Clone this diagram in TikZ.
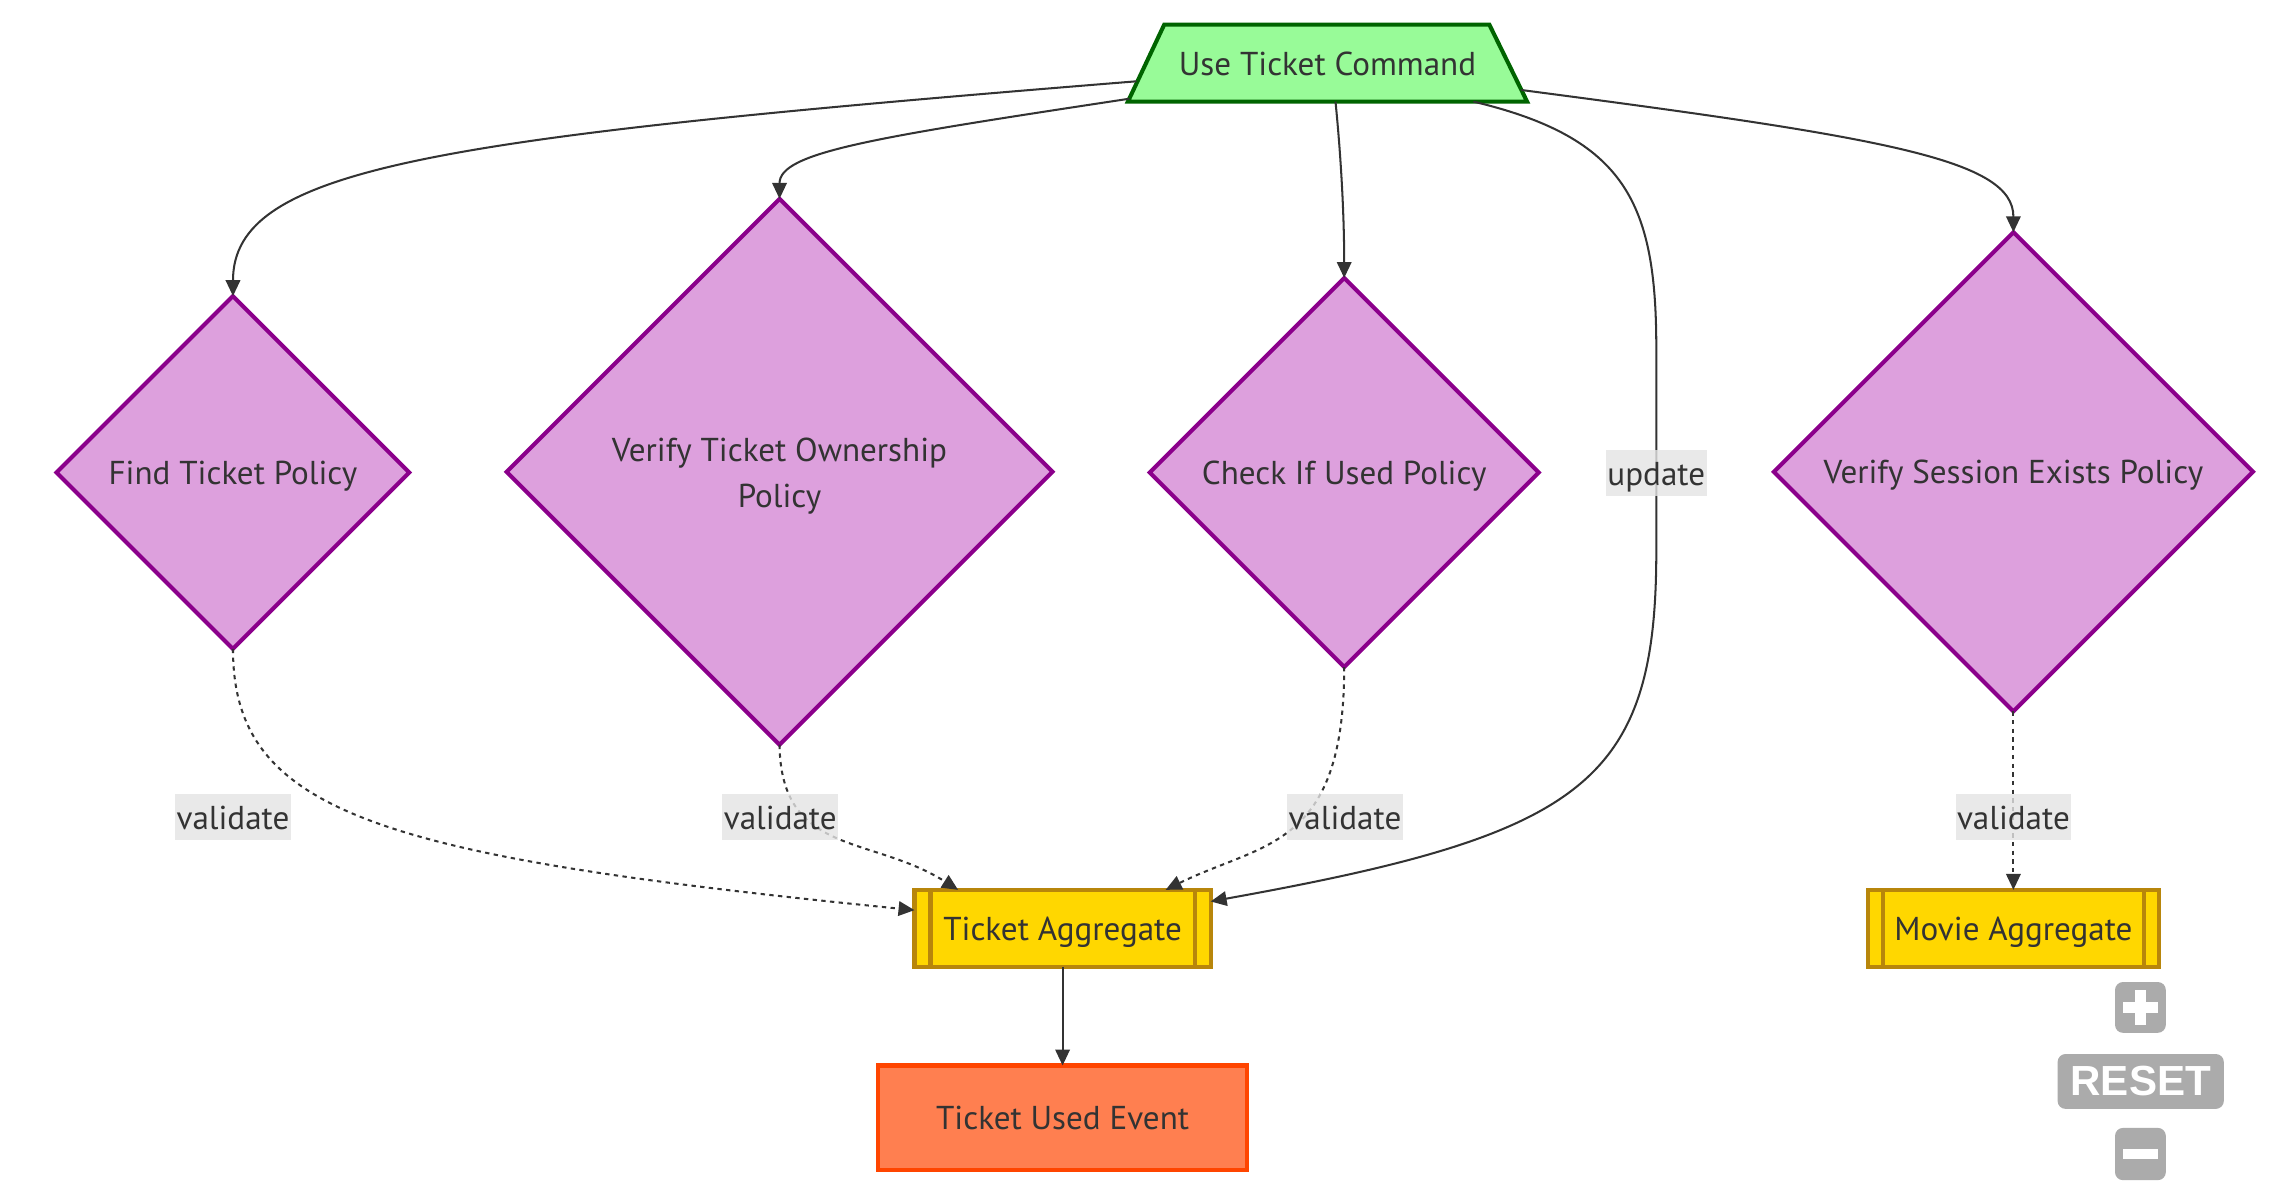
\documentclass[tikz,border=0pt]{standalone}
\usepackage{fontspec}
\setmainfont{PT Sans}
\newfontfamily\btnfont{Liberation Sans}
\usetikzlibrary{arrows.meta,shapes.geometric,calc}
\definecolor{txt}{HTML}{333333}
\definecolor{edgec}{HTML}{333333}
\definecolor{cmdfill}{HTML}{98FB98}
\definecolor{cmdstroke}{HTML}{006400}
\definecolor{polfill}{HTML}{DDA0DD}
\definecolor{polstroke}{HTML}{8B008B}
\definecolor{agfill}{HTML}{FFD700}
\definecolor{agstroke}{HTML}{B8860B}
\definecolor{evfill}{HTML}{FF7F50}
\definecolor{evstroke}{HTML}{FF4500}
\definecolor{labbg}{HTML}{E4E4E4}
\definecolor{btn}{HTML}{ABABAB}
\begin{document}
\begin{tikzpicture}[x=1pt,y=-1pt,
  lbl/.style={font=\fontsize{22.8}{32}\selectfont, text=txt, text height=21.3pt, text depth=4.7pt},
  pol/.style={diamond, draw=polstroke, fill=polfill, line width=2.8pt, aspect=1,
    inner sep=0pt, outer sep=0pt, align=center, lbl},
  agg/.style={rectangle, draw=agstroke, fill=agfill, line width=2.8pt,
    inner sep=0pt, outer sep=0pt, minimum height=53pt, lbl},
  conn/.style={draw=edgec, line width=1.4pt, -{Triangle[length=11pt,width=10pt]}},
  dotconn/.style={conn, dash pattern=on 3pt off 3pt},
  elab/.style={fill=labbg, fill opacity=0.8, text opacity=1, inner xsep=1pt, inner ysep=0pt,
    minimum height=32pt, lbl},
  btnbox/.style={fill=btn, rounded corners=5.5pt, inner sep=0pt, outer sep=0pt}
]
\useasboundingbox (0,0) rectangle (1568.6,826);

% command (trapezoid)
\node[lbl, minimum width=275pt, minimum height=53pt, inner sep=0pt, outer sep=0pt] (cmd) at (914.5,43.5) {};
\draw[draw=cmdstroke, fill=cmdfill, line width=2.8pt, line join=miter]
  ([xshift=25pt]cmd.north west) -- ([xshift=-26pt]cmd.north east) -- (cmd.south east) -- (cmd.south west) -- cycle;
\node[lbl] (cmdtext) at (cmd.center) {Use Ticket Command};

% policies
\node[pol, minimum width=243pt, minimum height=243pt] (find) at (160.5,325.5) {Find Ticket Policy};
\node[pol, minimum width=376pt, minimum height=376pt, text height=54.3pt] (own) at (537,325) {Verify Ticket Ownership\\Policy};
\node[pol, minimum width=268pt, minimum height=268pt] (chk) at (926,325.5) {Check If Used Policy};
\node[pol, minimum width=330pt, minimum height=330pt] (ses) at (1387,325) {Verify Session Exists Policy};

% aggregates
\node[agg, minimum width=204pt] (ta) at (732,639.5) {Ticket Aggregate};
\draw[agstroke, line width=2.8pt] ([xshift=11pt]ta.north west) -- ([xshift=11pt]ta.south west);
\draw[agstroke, line width=2.8pt] ([xshift=-11pt]ta.north east) -- ([xshift=-11pt]ta.south east);
\node[agg, minimum width=200pt] (ma) at (1387,639.5) {Movie Aggregate};
\draw[agstroke, line width=2.8pt] ([xshift=10pt]ma.north west) -- ([xshift=10pt]ma.south west);
\draw[agstroke, line width=2.8pt] ([xshift=-10pt]ma.north east) -- ([xshift=-10pt]ma.south east);

% event
\node[rectangle, draw=evstroke, fill=evfill, line width=2.8pt, inner sep=0pt, outer sep=0pt,
  minimum width=254pt, minimum height=72pt, lbl] (ev) at (732,770) {Ticket Used Event};

% solid connectors from command
\draw[conn] ($(cmd.south west)+(6,-14)$) .. controls (300,95) and (160.5,115) .. (find.north);
\draw[conn] ($(cmd.south west)+(1,-2)$) .. controls (600,95) and (537,105) .. (own.north);
\draw[conn] ($(cmd.south)+(5.5,0)$) .. controls (924,110) and (926,150) .. (chk.north);
\draw[conn] ($(cmd.south east)+(-4,-8)$) .. controls (1300,95) and (1387,110) .. (ses.north);
\draw[conn] ($(cmd.south east)+(-37,0)$) .. controls (1120,95) and (1141,140) .. (1141,240)
  -- (1141,380) .. controls (1141,540) and (1090,575) .. ($(ta.north east)+(0,8)$);

% dotted validate connectors
\draw[dotconn] (find.south) .. controls (160.5,560) and (260,590) .. ($(ta.north west)+(0,14)$);
\draw[dotconn] (own.south) .. controls (538,590) and (600,575) .. ($(ta.north west)+(30,0)$);
\draw[dotconn] (chk.south) .. controls (926,585) and (870,580) .. ($(ta.north east)+(-31,0)$);
\draw[dotconn] (ses.south) -- (ma.north);
\draw[conn] (ta.south) -- (ev.north);

% edge labels
\node[elab] (l1) at (160.5,563) {validate};
\node[elab] (l2) at (537.5,563) {validate};
\node[elab] (l3) at (926.5,563) {validate};
\node[elab] (l4) at (1387,563) {validate};
\node[elab] (l5) at (1141,326) {update};

% zoom controls
\node[btnbox, minimum width=35pt, minimum height=35pt] (plus) at (1474.5,694) {};
\fill[white] ($(plus.center)+(-11.8,-3.6)$) rectangle ($(plus.center)+(11.8,3.6)$);
\fill[white] ($(plus.center)+(-3.6,-11.8)$) rectangle ($(plus.center)+(3.6,11.8)$);
\node[btnbox, minimum width=114.5pt, minimum height=37.8pt, text=white,
  font=\btnfont\bfseries\fontsize{29}{29}\selectfont] (reset) at (1474.7,745) {RESET};
\node[btnbox, minimum width=35pt, minimum height=36pt] (minus) at (1474.5,795) {};
\fill[white] ($(minus.center)+(-11.8,-3.2)$) rectangle ($(minus.center)+(11.8,3.2)$);
\end{tikzpicture}
\end{document}
